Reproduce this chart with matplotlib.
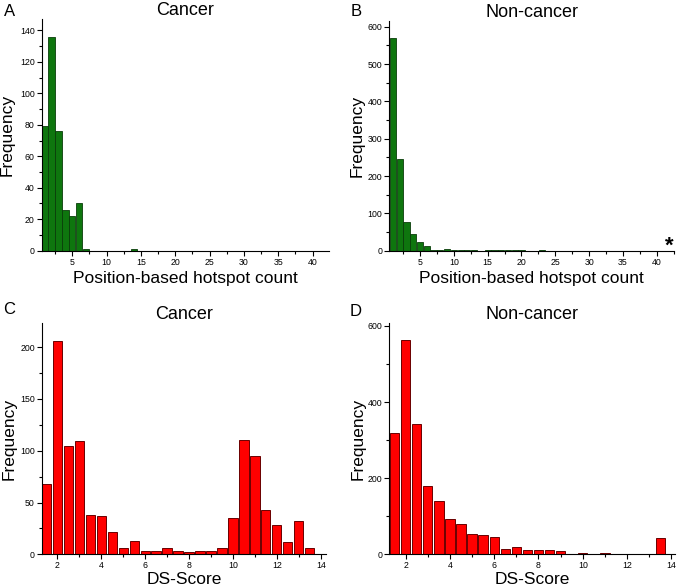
import numpy as np
import matplotlib.pyplot as plt
from matplotlib.ticker import MultipleLocator

# hotspot counts (bins 1..42)
hotspot_bins = np.arange(1, 43)
cancer_hotspot = [79, 136, 76, 26, 22, 30, 1, 0, 0, 0, 0, 0, 0, 1] + [0] * 28
noncancer_hotspot = [570, 245, 76, 45, 23, 12, 3, 2, 5, 1, 1, 1, 1, 0, 2, 1, 2, 1, 2, 1,
                     0, 0, 1] + [0] * 19

# DS-score (bins 1.5..13.5 step 0.5)
ds_bins = np.arange(1.5, 14.0, 0.5)
cancer_ds = [68, 206, 105, 109, 38, 37, 22, 6, 13, 3, 3, 6, 3, 2, 3, 3, 6, 35,
             110, 95, 43, 28, 12, 32, 6]
noncancer_ds = [320, 562, 343, 179, 139, 93, 80, 54, 52, 45, 13, 18, 12, 12, 10, 9,
                1, 3, 2, 4, 0, 0, 0, 2, 42]

GREEN = "#0e760e"
GREEN_EDGE = "#0a3d0a"
RED = "#ff0000"
RED_EDGE = "#6a0000"

plt.rcParams['font.family'] = ['Liberation Sans', 'DejaVu Sans']

fig = plt.figure(figsize=(6.77, 5.87), dpi=100)
axA = fig.add_axes([0.0616, 0.5729, 0.4244, 0.3942])
axB = fig.add_axes([0.575, 0.5729, 0.421, 0.3918])
axC = fig.add_axes([0.0616, 0.0557, 0.42, 0.3935])
axD = fig.add_axes([0.575, 0.0557, 0.4225, 0.3935])


def style(ax, xmaj, xmin, ymaj, ymin, ylab_x):
    ax.spines['top'].set_visible(False)
    ax.spines['right'].set_visible(False)
    ax.xaxis.set_major_locator(MultipleLocator(xmaj))
    ax.xaxis.set_minor_locator(MultipleLocator(xmin))
    ax.yaxis.set_major_locator(MultipleLocator(ymaj))
    ax.yaxis.set_minor_locator(MultipleLocator(ymin))
    ax.tick_params(which='major', direction='out', length=3.5, width=0.8, labelsize=6.3, pad=1.5)
    ax.tick_params(which='minor', direction='out', length=2, width=0.8)
    ax.set_ylabel("Frequency", fontsize=12.5)
    ax.yaxis.set_label_coords(ylab_x, 0.5)


# A
axA.bar(hotspot_bins, cancer_hotspot, width=0.92, color=GREEN, edgecolor=GREEN_EDGE, linewidth=0.6)
axA.set_xlim(0.55, 42.4)
axA.set_ylim(0, 147)
style(axA, 5, 2.5, 20, 10, -0.093)
axA.set_xticks([5, 10, 15, 20, 25, 30, 35, 40])
axA.set_xlabel("Position-based hotspot count", fontsize=12.5, labelpad=3)
axA.set_title("Cancer", fontsize=13, pad=2.5)

# B
axB.bar(hotspot_bins, noncancer_hotspot, width=0.92, color=GREEN, edgecolor=GREEN_EDGE, linewidth=0.6)
axB.set_xlim(0.45, 42.6)
axB.set_ylim(0, 616)
style(axB, 5, 2.5, 100, 50, -0.085)
axB.set_xticks([5, 10, 15, 20, 25, 30, 35, 40])
axB.set_xlabel("Position-based hotspot count", fontsize=12.5, labelpad=3)
axB.set_title("Non-cancer", fontsize=13, pad=2.5)
axB.text(41.8, 12, "*", fontsize=16, fontweight='bold', ha='center', va='center')

# C
axC.bar(ds_bins, cancer_ds, width=0.42, color=RED, edgecolor=RED_EDGE, linewidth=0.7)
axC.set_xlim(1.29, 14.24)
axC.set_ylim(0, 223)
style(axC, 2, 1, 50, 25, -0.088)
axC.set_xlabel("DS-Score", fontsize=12.5, labelpad=1)
axC.set_title("Cancer", fontsize=13, pad=1.5)

# D
axD.bar(ds_bins, noncancer_ds, width=0.42, color=RED, edgecolor=RED_EDGE, linewidth=0.7)
axD.set_xlim(1.26, 14.18)
axD.set_ylim(0, 607)
style(axD, 2, 1, 200, 100, -0.084)
axD.set_xlabel("DS-Score", fontsize=12.5, labelpad=1)
axD.set_title("Non-cancer", fontsize=13, pad=3)

# panel letters
fig.text(0.006, 0.993, "A", fontsize=12, va='top')
fig.text(0.518, 0.993, "B", fontsize=12, va='top')
fig.text(0.004, 0.4855, "C", fontsize=12, va='top')
fig.text(0.517, 0.482, "D", fontsize=12, va='top')

plt.savefig("out.png", dpi=100)
